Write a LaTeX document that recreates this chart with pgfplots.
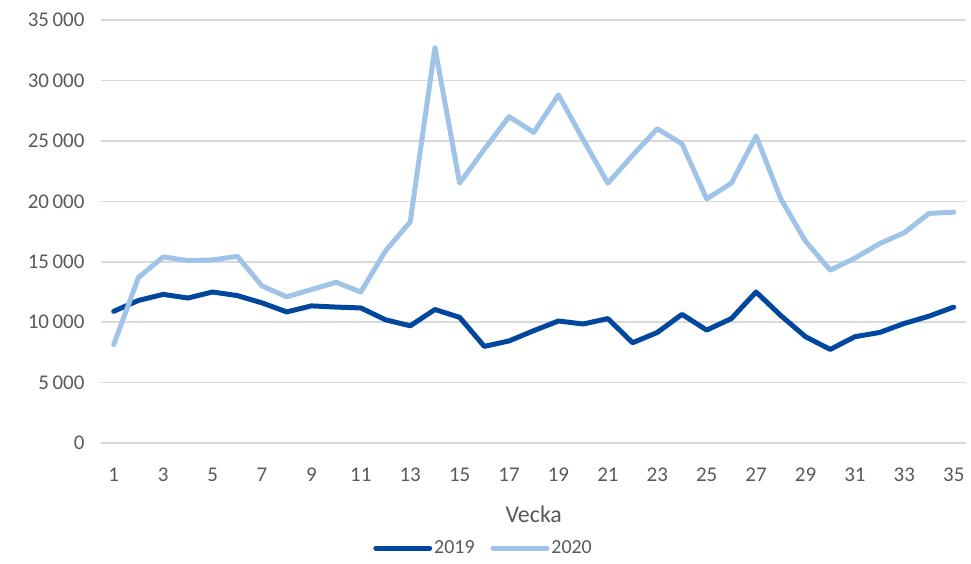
\documentclass[border=0pt]{standalone}
\usepackage{pgfplots}
\pgfplotsset{compat=1.18}
\usepackage{fontspec}
\setmainfont{Carlito}
\definecolor{darkb}{RGB}{0,71,157}
\definecolor{lightb}{RGB}{160,196,232}
\definecolor{txt}{RGB}{89,89,89}
\definecolor{gridc}{RGB}{217,217,217}
\begin{document}
\begin{tikzpicture}
\begin{axis}[
  name=ax,
  scale only axis,
  width=433.6pt, height=212.2pt,
  xmin=0.5, xmax=35.5, ymin=0, ymax=35000,
  xtick={1,3,...,35},
  ytick={0,5000,...,35000},
  major tick length=0pt,
  axis line style={draw=none},
  ymajorgrids, grid style={color=gridc, line width=0.8pt},
  /pgf/number format/assume math mode=true,
  /pgf/number format/1000 sep={\,},
  scaled y ticks=false,
  ticklabel style={font=\fontsize{10.5}{12}\selectfont, text=txt},
  yticklabel style={xshift=-5pt},
  xticklabel style={yshift=-9pt},
  xlabel={Vecka},
  xlabel style={font=\fontsize{12}{14}\selectfont, text=txt, at={(axis description cs:0.5,0)}, anchor=center, yshift=-35.5pt},
  legend columns=2,
  legend style={draw=none, font=\fontsize{10}{12}\selectfont, text=txt, at={(axis description cs:0.442,-0.248)}, anchor=center,
    /tikz/every even column/.append style={column sep=7pt},
    nodes={inner xsep=1pt}},
  legend image code/.code={\draw[#1] (0pt,0pt) -- (27pt,0pt);},
  clip=false,
]
\addplot[darkb, line width=2.5pt, line join=round, line cap=round] coordinates {
(1,10900)(2,11800)(3,12300)(4,12000)(5,12500)(6,12200)(7,11600)(8,10850)(9,11350)(10,11250)
(11,11180)(12,10200)(13,9700)(14,11050)(15,10400)(16,8000)(17,8450)(18,9300)(19,10100)(20,9850)
(21,10300)(22,8300)(23,9150)(24,10650)(25,9350)(26,10300)(27,12500)(28,10550)(29,8800)(30,7750)
(31,8800)(32,9150)(33,9900)(34,10500)(35,11250)};
\addlegendentry{2019}
\addplot[lightb, line width=2.5pt, line join=round, line cap=round] coordinates {
(1,8150)(2,13700)(3,15400)(4,15100)(5,15150)(6,15450)(7,13000)(8,12100)(9,12700)(10,13300)
(11,12500)(12,15900)(13,18300)(14,32700)(15,21500)(16,24300)(17,27000)(18,25700)(19,28800)(20,25100)
(21,21500)(22,23800)(23,26000)(24,24750)(25,20200)(26,21500)(27,25400)(28,20200)(29,16700)(30,14300)
(31,15300)(32,16500)(33,17400)(34,19000)(35,19100)};
\addlegendentry{2020}
\end{axis}
\path ([xshift=-50.85pt,yshift=-57.85pt]ax.south west) ([xshift=1pt,yshift=10pt]ax.north east);
\end{tikzpicture}
\end{document}
